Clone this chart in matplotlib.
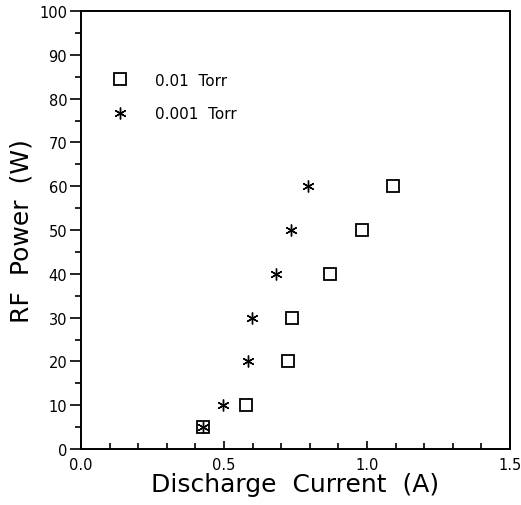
import numpy as np
import matplotlib
matplotlib.use('Agg')
from matplotlib import pyplot as plt
from matplotlib.ticker import MultipleLocator

# RF power vs discharge current at two pressures
power = [5, 10, 20, 30, 40, 50, 60]
current_001 = [0.427, 0.577, 0.724, 0.737, 0.871, 0.982, 1.091]   # 0.01 Torr
current_0001 = [0.427, 0.496, 0.585, 0.597, 0.682, 0.734, 0.794]  # 0.001 Torr
labels = ['0.01  Torr', '0.001  Torr']

plt.rcParams['font.family'] = ['DejaVu Sans']

fig = plt.figure(figsize=(5.21, 5.06), dpi=100)
ax = fig.add_axes([0.1555, 0.1107, 0.8235, 0.8655])

ax.plot(current_001, power, linestyle='none', marker='s', markersize=9,
        markerfacecolor='white', markeredgecolor='black', markeredgewidth=1.3,
        label=labels[0])
ax.plot(current_0001, power, linestyle='none', marker=(6, 2, 0), markersize=8.5,
        markeredgecolor='black', markeredgewidth=1.0, label=labels[1])

ax.set_xlim(0, 1.5)
ax.set_ylim(0, 100)
ax.xaxis.set_major_locator(MultipleLocator(0.5))
ax.xaxis.set_minor_locator(MultipleLocator(0.1))
ax.yaxis.set_major_locator(MultipleLocator(10))
ax.yaxis.set_minor_locator(MultipleLocator(5))
ax.xaxis.set_major_formatter(plt.FormatStrFormatter('%.1f'))

ax.tick_params(axis='x', which='both', direction='in', labelsize=10.5, width=1.2, pad=6)
ax.tick_params(axis='y', which='both', direction='out', labelsize=10.5, width=1.2, pad=2)
ax.tick_params(axis='y', which='major', length=8)
ax.tick_params(axis='y', which='minor', length=4)
ax.tick_params(axis='x', which='major', length=6)
ax.tick_params(axis='x', which='minor', length=4)
for s in ax.spines.values():
    s.set_linewidth(1.4)

ax.set_xlabel('Discharge  Current  (A)', fontsize=18, labelpad=0)
ax.set_ylabel('RF  Power  (W)', fontsize=18, labelpad=4)

ax.legend(loc='upper left', bbox_to_anchor=(0.041, 0.873), frameon=False,
          fontsize=11, handletextpad=1.3, labelspacing=1.2, borderaxespad=0)

plt.savefig('out.png', dpi=100)
